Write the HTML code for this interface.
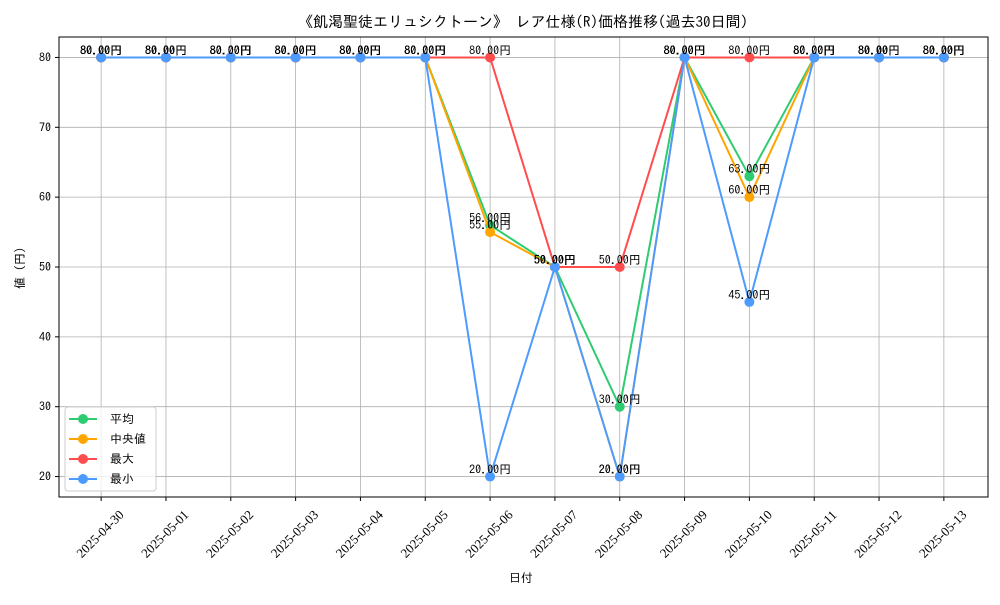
<!DOCTYPE html>
<html><head><meta charset="utf-8"><style>
body{margin:0;background:#fff;}
svg{font-family:"IPAGothic","Liberation Sans","Noto Sans CJK JP",sans-serif;}
</style></head><body>
<svg id="chart" width="1000" height="600" xmlns="http://www.w3.org/2000/svg">
<rect width="1000" height="600" fill="#fff"/>
<text x="523" y="27" font-size="15" text-anchor="middle">《飢渇聖徒エリュシクトーン》 レア仕様(R)価格推移(過去30日間)</text>
<g id="grid"></g>
<g id="series"></g>
<g id="labels"></g>
<rect x="59" y="37" width="929" height="460" fill="none" stroke="#000" stroke-width="1"/>
<g id="axes"></g>
<text x="521" y="582" font-size="12" text-anchor="middle">日付</text>
<text transform="translate(24,268) rotate(-90)" font-size="12" text-anchor="middle">値 (円)</text>
<g id="legend">
<rect x="65" y="407" width="91" height="84" rx="3" fill="#fff" fill-opacity="0.8" stroke="#ccc"/>
</g>
</svg>
<script>
const dates=["2025-04-30","2025-05-01","2025-05-02","2025-05-03","2025-05-04","2025-05-05","2025-05-06","2025-05-07","2025-05-08","2025-05-09","2025-05-10","2025-05-11","2025-05-12","2025-05-13"];
const avgVals=[80,80,80,80,80,80,56,50,30,80,63,80,80,80];
const medianVals=[80,80,80,80,80,80,55,50,20,80,60,80,80,80];
const maxVals=[80,80,80,80,80,80,80,50,50,80,80,80,80,80];
const minVals=[80,80,80,80,80,80,20,50,20,80,45,80,80,80];
const yTicks=[20,30,40,50,60,70,80];
const seriesNames=["平均","中央値","最大","最小"];
const seriesColors=["#2ecc71","#ffa500","#ff4d4d","#4d9bff"];
const NS="http://www.w3.org/2000/svg";
const L=59,R=986,T=37,B=497;
const all=[].concat(avgVals,medianVals,maxVals,minVals);
const dmin=Math.min(...all),dmax=Math.max(...all),pad=(dmax-dmin)*0.05;
const y0=dmin-pad,y1=dmax+pad;
const n=dates.length,xpad=(n-1)*0.05;
function xs(i){return L+(i+xpad)/(n-1+2*xpad)*(R-L);}
function ys(v){return B+0.5-(v-y0)/(y1-y0)*(B-T+1);}
function mk(tag,attrs,parent,txt){const e=document.createElementNS(NS,tag);for(const k in attrs)e.setAttribute(k,attrs[k]);if(txt!==undefined)e.textContent=txt;parent.appendChild(e);return e;}
const grid=document.getElementById('grid'),axes=document.getElementById('axes');
dates.forEach((d,i)=>{
  const x=xs(i);
  const g=mk('line',{x1:x,x2:x,y1:T,y2:B,stroke:'#b0b0b0','stroke-width':0.8},grid);
  
  
  mk('line',{x1:x,x2:x,y1:B,y2:B+4,stroke:'#000'},axes);
  const t=mk('text',{x:0,y:0,'font-size':13,'text-anchor':'middle','font-family':'"Liberation Serif",serif',transform:`translate(${x+2},${B+40}) rotate(-45)`},axes,d);
  
  
});
yTicks.forEach(v=>{
  const y=ys(v);
  const g=mk('line',{x1:L,x2:R+2,y1:y,y2:y,stroke:'#b0b0b0','stroke-width':0.8},grid);
  
  
  mk('line',{x1:L-4,x2:L,y1:y,y2:y,stroke:'#000'},axes);
  const t=mk('text',{x:L-8,y:y+4,'font-size':12,'text-anchor':'end'},axes,String(v));
  
  
});
const sg=document.getElementById('series'),lg=document.getElementById('labels');
[avgVals,medianVals,maxVals,minVals].forEach((vals,si)=>{
  const c=seriesColors[si];
  const p=mk('polyline',{points:vals.map((v,i)=>xs(i)+','+ys(v)).join(' '),fill:'none',stroke:c,'stroke-width':2},sg);
  
  
  vals.forEach((v,i)=>{
    const m=mk('circle',{cx:xs(i),cy:ys(v),r:5,fill:c},sg);
    
    
    const t=mk('text',{x:xs(i),y:ys(v)-3,'font-size':12,'text-anchor':'middle',fill:'#000'},lg,v.toFixed(2)+'円');
    
    
  });
});
const leg=document.getElementById('legend');
seriesNames.forEach((nm,i)=>{
  const y=419+i*20;
  mk('line',{x1:69,x2:97,y1:y,y2:y,stroke:seriesColors[i],'stroke-width':2},leg);
  mk('circle',{cx:83,cy:y,r:5,fill:seriesColors[i]},leg);
  const t=mk('text',{x:110,y:y+4,'font-size':12},leg,nm);
  
  
});
</script>
</body></html>
